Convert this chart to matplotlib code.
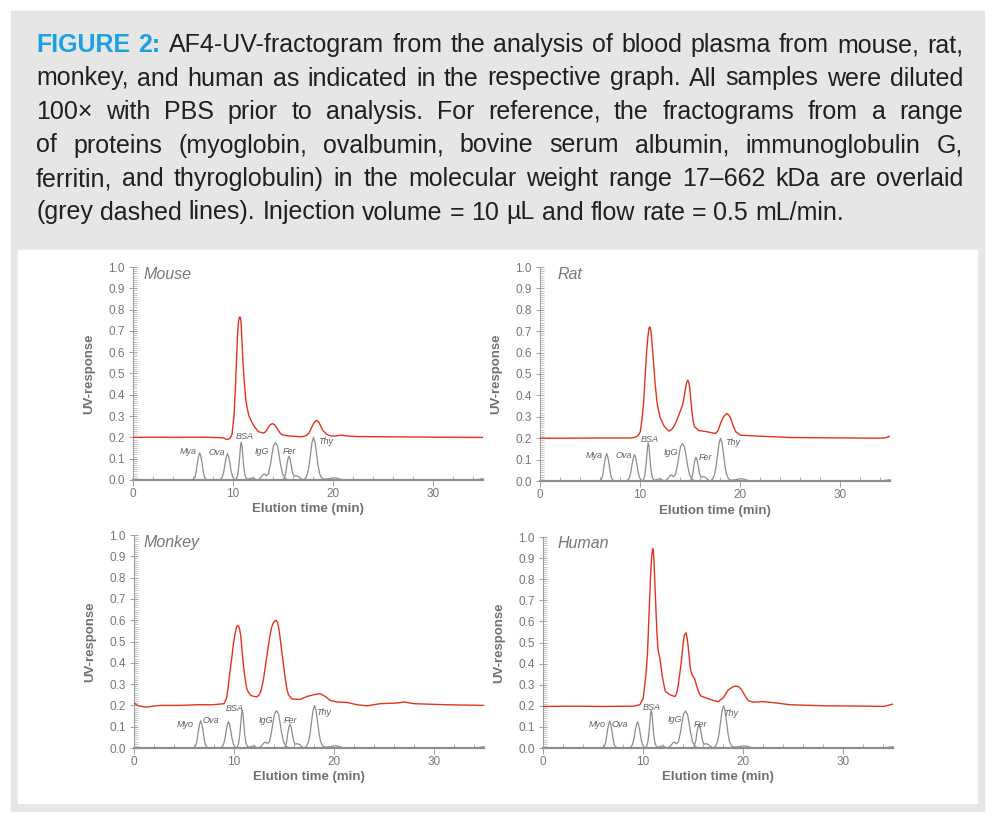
import matplotlib
matplotlib.use('Agg')
import matplotlib.pyplot as plt
from matplotlib.patches import Rectangle
from matplotlib.ticker import MultipleLocator

plt.rcParams['font.family'] = ['Liberation Sans', 'DejaVu Sans']

# ---- reference proteins (grey overlay, same in every panel) ----
myo_t = [0, 5.9, 6.05, 6.2, 6.3, 6.42, 6.55, 6.67, 6.79, 6.92, 7.04, 7.14, 7.29, 7.45, 35]
myo_y = [0, 0, 0.004, 0.015, 0.035, 0.075, 0.11, 0.128, 0.11, 0.075, 0.035, 0.015, 0.004, 0, 0]

ova_t = [0, 8.6, 8.8, 8.95, 9.08, 9.2, 9.33, 9.45, 9.57, 9.7, 9.82, 9.95, 10.1, 10.3, 35]
ova_y = [0, 0, 0.005, 0.017, 0.04, 0.075, 0.108, 0.124, 0.108, 0.075, 0.04, 0.017, 0.005, 0, 0]

bsa_t = [0, 10.2, 10.35, 10.47, 10.57, 10.67, 10.75, 10.82, 10.9, 10.98, 11.08, 11.2, 11.35,
         11.55, 11.75, 11.95, 12.15, 12.4, 35]
bsa_y = [0, 0, 0.006, 0.025, 0.06, 0.11, 0.158, 0.178, 0.16, 0.115, 0.06, 0.022, 0.006,
         0.004, 0.008, 0.01, 0.006, 0, 0]

igg_t = [0, 12.5, 12.8, 13.0, 13.15, 13.35, 13.55, 13.75, 13.9, 14.05, 14.25, 14.45, 14.6,
         14.75, 14.95, 15.2, 15.5, 35]
igg_y = [0, 0, 0.012, 0.025, 0.028, 0.02, 0.03, 0.075, 0.12, 0.16, 0.175, 0.16, 0.12,
         0.075, 0.03, 0.008, 0, 0]

fer_t = [0, 15.0, 15.15, 15.28, 15.4, 15.5, 15.6, 15.7, 15.82, 15.95, 16.1, 16.3, 16.5,
         16.75, 17.0, 35]
fer_y = [0, 0, 0.01, 0.035, 0.075, 0.1, 0.111, 0.1, 0.07, 0.035, 0.018, 0.02, 0.018,
         0.008, 0, 0]

thy_t = [0, 17.0, 17.25, 17.45, 17.6, 17.75, 17.9, 18.05, 18.2, 18.35, 18.5, 18.65, 18.85,
         19.1, 19.6, 20.0, 20.3, 20.7, 21.0, 34.0, 34.6, 35]
thy_y = [0, 0, 0.008, 0.03, 0.065, 0.12, 0.175, 0.2, 0.178, 0.125, 0.07, 0.032, 0.01,
         0.004, 0.006, 0.01, 0.01, 0.004, 0, 0, 0.003, 0.006]

# ---- plasma fractograms (red) ----
mouse_t = [0, 2, 4, 6, 8, 9.0, 9.4, 9.7, 9.9, 10.1, 10.24, 10.35, 10.44, 10.55, 10.64, 10.72,
           10.8, 10.9, 11.0, 11.1, 11.2, 11.3, 11.45, 11.6, 11.9, 12.2, 12.55, 13.05, 13.3,
           13.5, 13.75, 13.95, 14.2, 14.5, 14.75, 15.0, 15.5, 15.9, 16.5, 16.9, 17.3, 17.6,
           17.95, 18.15, 18.35, 18.6, 18.8, 19.0, 19.4, 19.8, 20.2, 20.8, 21.5, 22.5, 24.5,
           27.5, 30, 33, 35]
mouse_y = [0.2, 0.201, 0.2, 0.201, 0.2, 0.198, 0.19, 0.195, 0.214, 0.3, 0.43, 0.56, 0.67,
           0.745, 0.765, 0.765, 0.745, 0.65, 0.55, 0.48, 0.42, 0.37, 0.33, 0.30, 0.27, 0.246,
           0.227, 0.22, 0.228, 0.245, 0.26, 0.265, 0.258, 0.235, 0.218, 0.211, 0.207, 0.206,
           0.204, 0.203, 0.208, 0.22, 0.255, 0.272, 0.28, 0.27, 0.25, 0.232, 0.213, 0.207,
           0.206, 0.211, 0.206, 0.204, 0.203, 0.202, 0.201, 0.2, 0.2]

rat_t = [0, 3, 6, 9, 9.5, 9.8, 10.03, 10.2, 10.37, 10.5, 10.64, 10.78, 10.9, 11.0, 11.1,
         11.23, 11.37, 11.5, 11.7, 11.87, 12.04, 12.44, 12.9, 13.15, 13.38, 13.65, 13.88,
         14.1, 14.25, 14.42, 14.55, 14.68, 14.78, 14.88, 14.98, 15.1, 15.2, 15.32, 15.45,
         15.89, 16.72, 17.3, 17.56, 17.8, 18.06, 18.35, 18.66, 18.86, 19.06, 19.3, 19.57,
         20.07, 21.7, 25.1, 28.4, 31, 34.1, 34.6, 35]
rat_y = [0.2, 0.2, 0.201, 0.201, 0.204, 0.212, 0.23, 0.29, 0.37, 0.48, 0.59, 0.67, 0.715,
         0.72, 0.70, 0.63, 0.543, 0.46, 0.37, 0.325, 0.293, 0.254, 0.233, 0.24, 0.254, 0.28,
         0.308, 0.335, 0.355, 0.395, 0.433, 0.462, 0.471, 0.46, 0.433, 0.37, 0.324, 0.28,
         0.254, 0.236, 0.23, 0.224, 0.222, 0.235, 0.27, 0.3, 0.315, 0.31, 0.293, 0.26, 0.23,
         0.214, 0.21, 0.203, 0.202, 0.201, 0.2, 0.202, 0.21]

monkey_t = [0, 0.4, 1.2, 2.6, 4.6, 6.3, 7.9, 9.0, 9.26, 9.43, 9.6, 9.77, 9.93, 10.1, 10.27,
            10.43, 10.55, 10.67, 10.8, 10.94, 11.1, 11.27, 11.45, 11.67, 12.0, 12.27, 12.5,
            12.68, 12.9, 13.11, 13.33, 13.55, 13.75, 13.95, 14.2, 14.35, 14.48, 14.63, 14.78,
            14.95, 15.12, 15.3, 15.45, 15.79, 16.6, 17.3, 17.96, 18.6, 19.13, 19.63, 20.3,
            21.3, 22.3, 23.3, 24.6, 26.3, 27.0, 28.0, 31.3, 35]
monkey_y = [0.212, 0.198, 0.192, 0.2, 0.2, 0.203, 0.203, 0.208, 0.234, 0.29, 0.36, 0.42,
            0.484, 0.535, 0.57, 0.575, 0.56, 0.53, 0.46, 0.39, 0.33, 0.28, 0.26, 0.247,
            0.242, 0.24, 0.248, 0.266, 0.31, 0.375, 0.445, 0.516, 0.565, 0.59, 0.6, 0.59,
            0.5625, 0.51, 0.453, 0.39, 0.328, 0.275, 0.25, 0.23, 0.228, 0.242, 0.25, 0.255,
            0.242, 0.223, 0.216, 0.214, 0.203, 0.198, 0.208, 0.211, 0.216, 0.208, 0.203, 0.2]

human_t = [0, 3, 6, 9, 9.69, 10.02, 10.29, 10.45, 10.56, 10.66, 10.76, 10.86, 10.96, 11.03,
           11.09, 11.19, 11.29, 11.39, 11.49, 11.59, 11.69, 11.82, 11.96, 12.23, 12.7, 13.2,
           13.37, 13.53, 13.7, 13.87, 14.0, 14.13, 14.3, 14.4, 14.5, 14.6, 14.7, 14.8, 14.93,
           15.17, 15.3, 15.44, 15.6, 15.77, 16.37, 17.04, 17.54, 18.04, 18.54, 19.04, 19.3,
           19.55, 19.8, 20.05, 20.3, 20.55, 21.05, 22.05, 23.39, 24.72, 28.07, 31, 34.08, 35]
human_y = [0.197, 0.198, 0.197, 0.198, 0.205, 0.236, 0.346, 0.45, 0.583, 0.70, 0.819, 0.9,
           0.945, 0.935, 0.898, 0.78, 0.661, 0.55, 0.472, 0.445, 0.425, 0.38, 0.33, 0.268,
           0.252, 0.244, 0.26, 0.30, 0.36, 0.425, 0.49, 0.535, 0.546, 0.525, 0.488, 0.44,
           0.394, 0.36, 0.346, 0.328, 0.305, 0.283, 0.262, 0.247, 0.236, 0.225, 0.22, 0.239,
           0.276, 0.291, 0.294, 0.291, 0.28, 0.26, 0.24, 0.224, 0.217, 0.22, 0.213, 0.205,
           0.2, 0.199, 0.197, 0.208]

panel_names = ['Mouse', 'Rat', 'Monkey', 'Human']
# peak label text as printed in each panel (original spells Myo as "Mya" in two panels)
labels_mouse = ['Mya', 'Ova', 'BSA', 'IgG', 'Fer', 'Thy']
labels_rat = ['Mya', 'Ova', 'BSA', 'IgG', 'Fer', 'Thy']
labels_monkey = ['Myo', 'Ova', 'BSA', 'IgG', 'Fer', 'Thy']
labels_human = ['Myo', 'Ova', 'BSA', 'IgG', 'Fer', 'Thy']

caption_lines = [
    "FIGURE 2: AF4-UV-fractogram from the analysis of blood plasma from mouse, rat,",
    "monkey, and human as indicated in the respective graph. All samples were diluted",
    "100\u00d7 with PBS prior to analysis. For reference, the fractograms from a range",
    "of proteins (myoglobin, ovalbumin, bovine serum albumin, immunoglobulin G,",
    "ferritin, and thyroglobulin) in the molecular weight range 17\u2013662 kDa are overlaid",
    "(grey dashed lines). Injection volume = 10 \u00b5L and flow rate = 0.5 mL/min.",
]

W, H = 996, 822
fig = plt.figure(figsize=(W / 100, H / 100), dpi=100)
fig.patch.set_facecolor('white')

# grey frame and white chart panel
fig.patches.append(Rectangle((11 / W, 1 - 811 / H), (984 - 11) / W, (811 - 11) / H,
                             transform=fig.transFigure, color='#e6e6e6', zorder=-2))
fig.patches.append(Rectangle((18 / W, 1 - 803 / H), (977 - 18) / W, (803 - 250) / H,
                             transform=fig.transFigure, color='white', zorder=-1))

# ---- caption, justified ----
renderer = fig.canvas.get_renderer()
cap_size = 18
x0, x1 = 36, 963
probe1 = fig.text(0, 0, 'a a', fontsize=cap_size)
probe2 = fig.text(0, 0, 'aa', fontsize=cap_size)
space_w = probe1.get_window_extent(renderer).width - probe2.get_window_extent(renderer).width
probe1.remove()
probe2.remove()

baselines = [52, 85.5, 119, 152.5, 186, 219.5]
for i, (line, yb) in enumerate(zip(caption_lines, baselines)):
    words = line.split(' ')
    arts = []
    for j, w in enumerate(words):
        if i == 0 and j < 2:
            t = fig.text(0, 1 - yb / H, w, fontsize=cap_size, fontweight='bold',
                         color='#1ba1e2', va='baseline')
        else:
            t = fig.text(0, 1 - yb / H, w, fontsize=cap_size, color='#231f20', va='baseline')
        arts.append(t)
    widths = [a.get_window_extent(renderer).width for a in arts]
    if i < len(caption_lines) - 1:
        gap = max((x1 - x0 - sum(widths)) / (len(arts) - 1), 0.5 * space_w)
    else:
        gap = space_w
    x = x0
    for a, w in zip(arts, widths):
        a.set_x(x / W)
        x += w + gap

# ---- panels ----
red = '#e5321c'
grey = '#8d8d8d'
ref_curves = [(myo_t, myo_y), (ova_t, ova_y), (bsa_t, bsa_y),
              (igg_t, igg_y), (fer_t, fer_y), (thy_t, thy_y)]

panels = [
    (mouse_t, mouse_y, labels_mouse, (133, 267, 480),
     [(5.55, 0.133), (8.37, 0.131), (11.2, 0.205), (12.9, 0.133), (15.68, 0.133), (19.26, 0.182)], 1.0),
    (rat_t, rat_y, labels_rat, (540, 267, 481),
     [(5.38, 0.119), (8.33, 0.119), (10.97, 0.196), (13.08, 0.133), (16.52, 0.11), (19.3, 0.178)], 1.7),
    (monkey_t, monkey_y, labels_monkey, (134, 535, 748),
     [(5.12, 0.1125), (7.7, 0.127), (10.07, 0.186), (13.18, 0.127), (15.69, 0.128), (18.96, 0.167)], 0.9),
    (human_t, human_y, labels_human, (543, 537, 748),
     [(5.41, 0.113), (7.72, 0.113), (10.83, 0.192), (13.16, 0.137), (15.74, 0.113), (18.78, 0.165)], 1.4),
]

for (t, y, labs, (left, top, bottom), lab_pos, title_x), name in zip(panels, panel_names):
    ax = fig.add_axes([left / W, 1 - bottom / H, 350 / W, (bottom - top) / H])
    ax.set_facecolor('none')
    for rt, ry in ref_curves:
        ax.plot(rt, ry, color=grey, lw=0.9, zorder=2, clip_on=False)
    ax.plot(t, y, color=red, lw=1.0, zorder=3)
    for lab, (lx, ly) in zip(labs, lab_pos):
        ax.text(lx, ly, lab, fontsize=6.5, style='italic', color='#606060',
                ha='center', va='center', zorder=4)
    ax.text(title_x, 0.967, name, fontsize=11.5, style='italic', color='#777777',
            ha='left', va='center')

    ax.set_xlim(0, 35)
    ax.set_ylim(0, 1.0)
    ax.xaxis.set_major_locator(MultipleLocator(10))
    ax.xaxis.set_minor_locator(MultipleLocator(2))
    ax.yaxis.set_major_locator(MultipleLocator(0.1))
    ax.yaxis.set_minor_locator(MultipleLocator(0.01))
    ax.yaxis.set_major_formatter(matplotlib.ticker.FormatStrFormatter('%.1f'))

    for s in ['top', 'right']:
        ax.spines[s].set_visible(False)
    ax.spines['left'].set_color('#a0a0a0')
    ax.spines['left'].set_linewidth(0.8)
    ax.spines['bottom'].set_color('#9a9a9a')
    ax.spines['bottom'].set_linewidth(1.6)
    ax.spines['bottom'].set_zorder(1)

    ax.tick_params(axis='y', which='major', direction='inout', length=6, width=0.7,
                   color='#a0a0a0', labelsize=8.5, labelcolor='#777777', pad=3)
    ax.tick_params(axis='y', which='minor', direction='in', length=3, width=0.5, color='#b0b0b0')
    ax.tick_params(axis='x', which='major', direction='out', length=4, width=0.7,
                   color='#a0a0a0', labelsize=8.5, labelcolor='#777777', pad=2)
    ax.tick_params(axis='x', which='minor', direction='in', length=3, width=0.6, color='#a0a0a0')

    ax.set_xlabel('Elution time (min)', fontsize=9.5, fontweight='bold', color='#707070')
    ax.set_ylabel('UV-response', fontsize=9.5, fontweight='bold', color='#707070')
    ax.xaxis.set_label_coords(0.5, -0.11)
    ax.yaxis.set_label_coords(-0.108, 0.5)

fig.savefig('out.png', dpi=100, facecolor='white')
